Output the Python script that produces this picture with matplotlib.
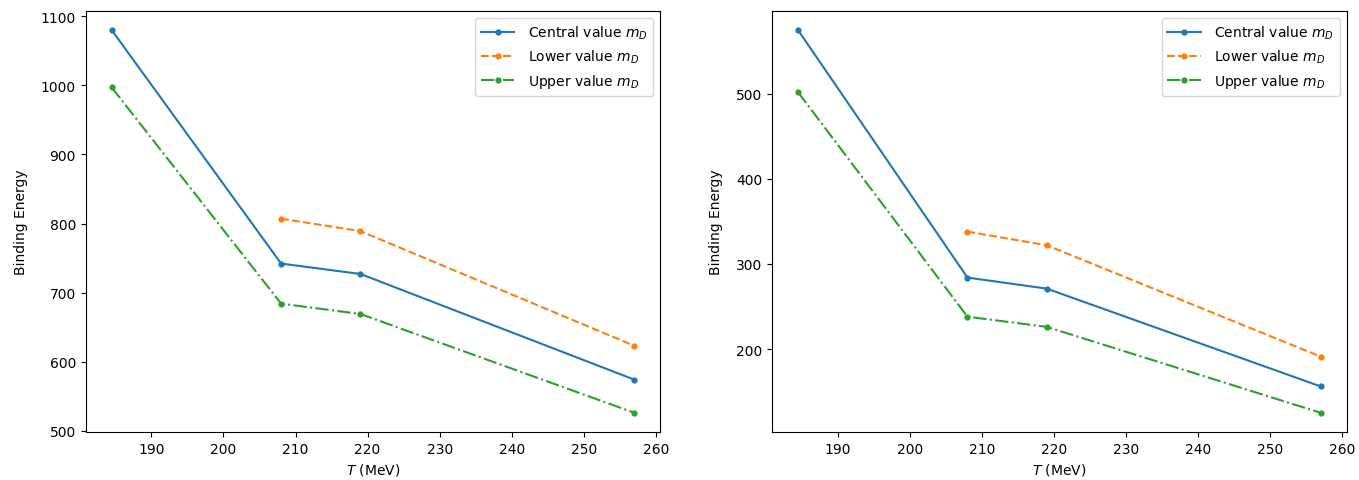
import matplotlib
matplotlib.use("Agg")
import matplotlib.pyplot as plt

# temperatures (MeV)
T = [184.5, 208, 219, 257]
T_lower = [208, 219, 257]

# left panel
left_central = [1080, 742, 727, 574]
left_lower = [807, 789, 623]
left_upper = [997, 684, 669, 526]

# right panel
right_central = [575, 284, 271, 156]
right_lower = [338, 322, 191]
right_upper = [502, 238, 226, 125]


def draw(ax, central, lower, upper):
    ax.plot(T, central, "-", marker="o", ms=3.5, color="C0", label="Central value $m_D$")
    ax.plot(T_lower, lower, "--", marker="o", ms=3.5, color="C1", label="Lower value $m_D$")
    ax.plot(T, upper, "-.", marker="o", ms=3.5, color="C2", label="Upper value $m_D$")
    ax.set_xlabel("$T$ (MeV)")
    ax.set_ylabel("Binding Energy", labelpad=9)
    ax.legend(loc="upper right", handlelength=2.4, handletextpad=1.0)


fig, (ax1, ax2) = plt.subplots(1, 2, figsize=(13.59, 4.81), dpi=100)
fig.subplots_adjust(left=0.063, right=0.991, top=0.975, bottom=0.10, wspace=0.194)

draw(ax1, left_central, left_lower, left_upper)
draw(ax2, right_central, right_lower, right_upper)

fig.savefig("out.png", dpi=100)
plt.close(fig)
